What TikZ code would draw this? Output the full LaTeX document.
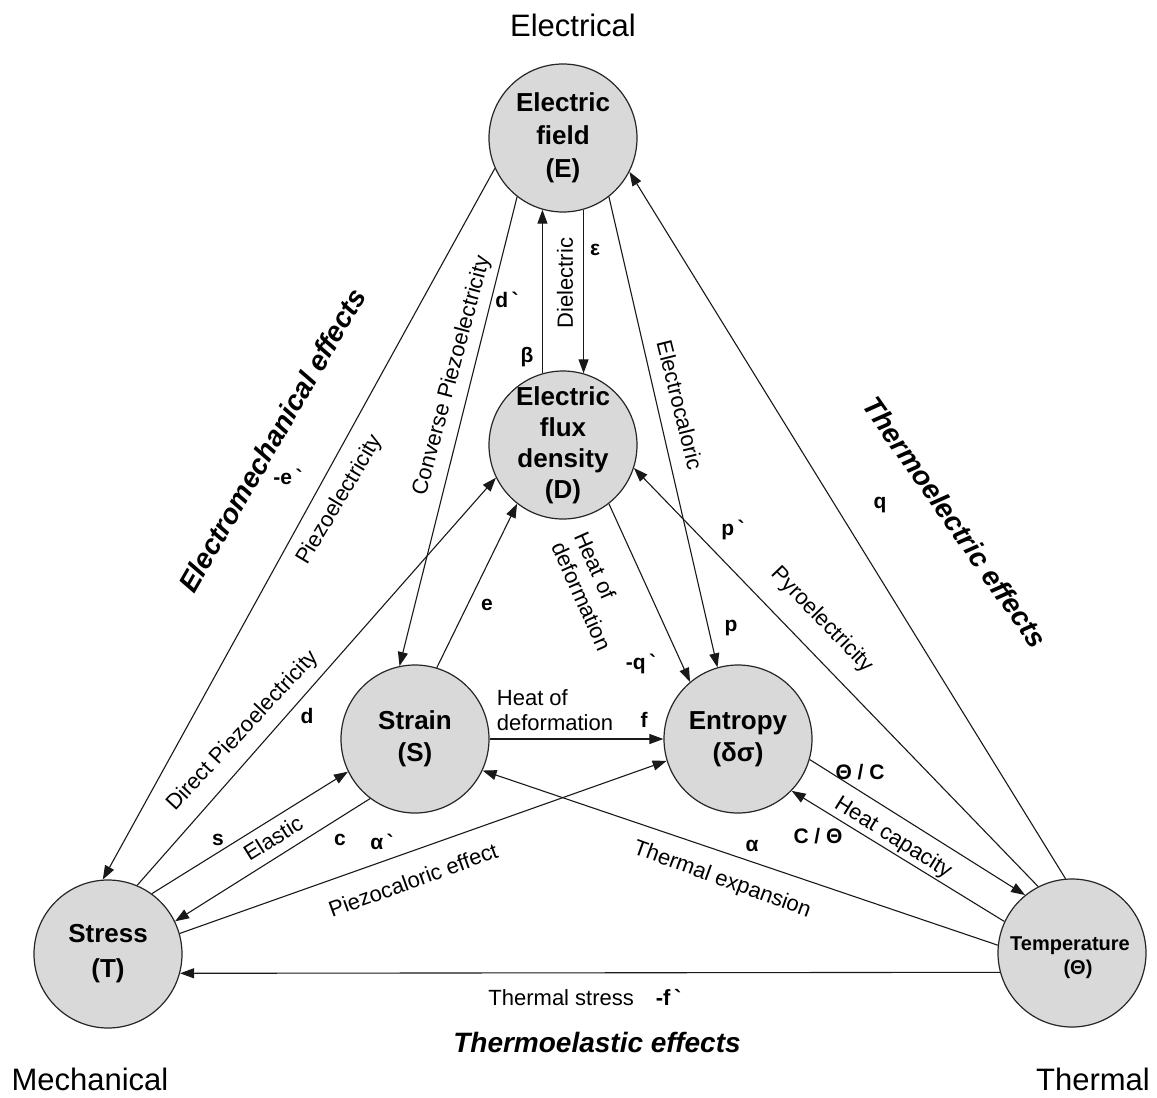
\documentclass[tikz,border=0pt]{standalone}
\usepackage{fontspec}
\setmainfont{Liberation Sans}
\usetikzlibrary{arrows.meta}
\begin{document}
\begin{tikzpicture}[x=1pt,y=-1pt,
  state/.style={circle,draw=black!85,line width=1.2pt,fill=black!15,minimum size=148pt,inner sep=0pt},
  stxt/.style={align=center,font=\bfseries\fontsize{26}{32}\selectfont,inner sep=0pt},
  conn/.style={line width=1.1pt,draw=black!90,-{Triangle[length=14pt,width=10pt]}},
  lab/.style={font=\fontsize{22}{25}\selectfont,inner sep=1pt},
  sym/.style={font=\bfseries\fontsize{21}{24}\selectfont,inner sep=1pt},
  cat/.style={font=\bfseries\itshape\fontsize{28}{32}\selectfont,inner sep=1pt},
  domlab/.style={font=\fontsize{31}{36}\selectfont,inner sep=1pt}]
\useasboundingbox[fill=white] (0,0) rectangle (1157,1098);

% circles
\node[state] (E) at (563,138) {};
\node[state] (D) at (563,445) {};
\node[state] (S) at (415,739) {};
\node[state] (N) at (738,739) {};
\node[state] (T) at (108,954) {};
\node[state] (H) at (1072,953) {};

\node[stxt,font=\bfseries\fontsize{26}{33}\selectfont] (Et) at (E) {Electric\\field\\(E)};
\node[stxt,font=\bfseries\fontsize{26}{31}\selectfont] (Dt) at (D) {Electric\\flux\\density\\(D)};
\node[stxt] (St) at (S) {Strain\\(S)};
\node[stxt] (Nt) at (N) {Entropy\\(δσ)};
\node[stxt,font=\bfseries\fontsize{26}{35}\selectfont] (Tt) at (T) {Stress\\(T)};
\node[stxt,font=\bfseries\fontsize{20}{24}\selectfont] (Ht) at (1070,958) {Temperature\\\hspace*{0.8em}(Θ)};

% connectors
\draw[conn] (E.204) -- (T.94);
\draw[conn] (E.232) -- (S.102);
\draw[conn] (D.106) -- (E.254);
\draw[conn] (E.286) -- (D.74);
\draw[conn] (E.308) -- (N.106);
\draw[conn] (D.308) -- (N.130);
\draw[conn] (S.73) -- (D.232);
\draw[conn] (T.67) -- (D.206);
\draw[conn] (T.54) -- (S.206);
\draw[conn] (S.233) -- (T.26);
\draw[conn] (T.16) -- (N.197);
\draw[conn] (S.east) -- (N.west);
\draw[conn] (H.174) -- (S.335);
\draw[conn] (H.195) -- (T.345);
\draw[conn] (N.344) -- (H.129);
\draw[conn] (H.155) -- (N.316);
\draw[conn] (H.117) -- (D.342);
\draw[conn] (H.95) -- (E.333);

% connector labels
\node[sym] (l1) at (288,477) {-e\,\textasciigrave};
\node[lab,rotate=59] (l2) at (340,500) {Piezoelectricity};
\node[sym] (l3) at (507,300) {d\,\textasciigrave};
\node[lab,rotate=75] (l4) at (452,376) {Converse Piezoelectricity};
\node[sym] (l5) at (527,357) {β};
\node[sym] (l6) at (595,250) {ε};
\node[lab,rotate=90] (l7) at (565,283) {Dielectric};
\node[lab,rotate=-76] (l8) at (680,405) {Electrocaloric};
\node[sym] (l9) at (731,628) {p};
\node[sym] (l10) at (733,530) {p\,\textasciigrave};
\node[lab,rotate=-46] (l11) at (822,620) {Pyroelectricity};
\node[sym] (l12) at (880,505) {q};
\node[lab,rotate=-66,align=left] (l13) at (593,591) {Heat of\\deformation};
\node[sym] (l14) at (641,664) {-q\,\textasciigrave};
\node[sym] (l15) at (487,605) {e};
\node[lab,align=left] (l16) at (555,710) {Heat of\\deformation};
\node[sym] (l17) at (644,720) {f};
\node[sym] (l18) at (307,716) {d};
\node[lab,rotate=47] (l19) at (243,731) {Direct Piezoelectricity};
\node[sym] (l20) at (218,840) {s};
\node[lab,rotate=32] (l21) at (273,838) {Elastic};
\node[sym] (l22) at (340,840) {c};
\node[sym] (l23) at (382,842) {α\,\textasciigrave};
\node[lab,rotate=20] (l24) at (413,880) {Piezocaloric effect};
\node[sym] (l25) at (752,846) {α};
\node[lab,rotate=-20] (l26) at (722,880) {Thermal expansion};
\node[lab] (l27) at (585,998) {Thermal stress\hspace{1em}\textbf{-f\,\textasciigrave}};
\node[sym] (l28) at (860,772) {Θ / C};
\node[sym] (l29) at (818,836) {C / Θ};
\node[lab,rotate=-32] (l30) at (893,838) {Heat capacity};

% group labels
\node[cat,rotate=60] (g1) at (272,440) {Electromechanical effects};
\node[cat,rotate=-55] (g2) at (955,522) {Thermoelectric effects};
\node[cat] (g3) at (597,1042) {Thermoelastic effects};
\node[domlab] (d1) at (573,25) {Electrical};
\node[domlab] (d2) at (90,1079) {Mechanical};
\node[domlab] (d3) at (1093,1079) {Thermal};
\end{tikzpicture}
\end{document}
